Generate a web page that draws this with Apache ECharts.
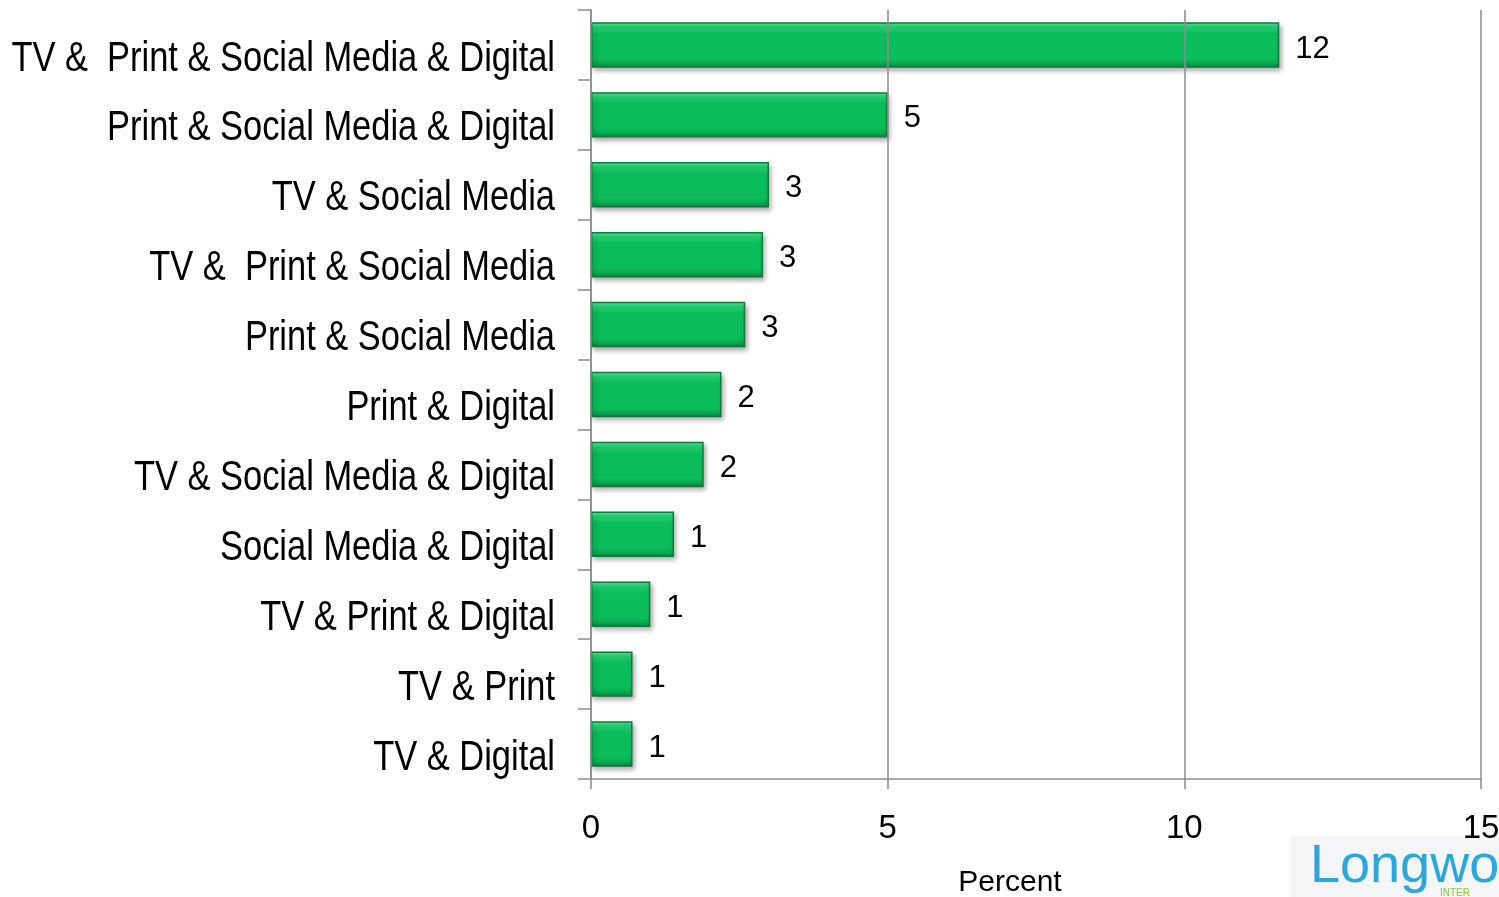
<!DOCTYPE html>
<html>
<head>
<meta charset="utf-8">
<script src="https://cdn.jsdelivr.net/npm/echarts@6/dist/echarts.min.js"></script>
<style>
  html, body { margin: 0; padding: 0; background: #fff; }
  #chart { width: 1499px; height: 897px; }
</style>
</head>
<body>
<div id="chart"></div>
<script>
// Media combinations, listed top to bottom
const categories = [
  'TV &  Print & Social Media & Digital',
  'Print & Social Media & Digital',
  'TV & Social Media',
  'TV &  Print & Social Media',
  'Print & Social Media',
  'Print & Digital',
  'TV & Social Media & Digital',
  'Social Media & Digital',
  'TV & Print & Digital',
  'TV & Print',
  'TV & Digital'
];
// Share of respondents (percent)
const percentValues = [11.6, 5.0, 3.0, 2.9, 2.6, 2.2, 1.9, 1.4, 1.0, 0.7, 0.7];
const axisTicks = [0, 5, 10, 15];

const chart = echarts.init(document.getElementById('chart'), null, { renderer: 'canvas' });

const barFill = new echarts.graphic.LinearGradient(0, 0, 0, 1, [
  { offset: 0.00, color: '#5af09c' },
  { offset: 0.12, color: '#22d372' },
  { offset: 0.25, color: '#0bbd5a' },
  { offset: 0.80, color: '#0bbd5a' },
  { offset: 0.92, color: '#0aa44e' },
  { offset: 1.00, color: '#087d3b' }
]);

const gridLeft = 591;

chart.setOption({
  animation: false,
  grid: { left: gridLeft, right: 18, top: 10, bottom: 118, containLabel: false, outerBoundsMode: 'none' },
  xAxis: {
    type: 'value',
    min: axisTicks[0],
    max: axisTicks[axisTicks.length - 1],
    interval: axisTicks[1] - axisTicks[0],
    z: 5,
    axisLine: { show: true, lineStyle: { color: '#8c8c8c', width: 1.5 } },
    axisTick: { show: true, length: 10, lineStyle: { color: '#8c8c8c', width: 1.5 } },
    axisLabel: {
      color: '#000', fontFamily: 'Liberation Sans, Arial, sans-serif', fontSize: 33, margin: 33
    },
    splitLine: { show: true, lineStyle: { color: '#8c8c8c', width: 1.5 } }
  },
  yAxis: {
    type: 'category',
    data: categories,
    inverse: true,
    axisLine: { show: true, lineStyle: { color: '#8c8c8c', width: 1.5 } },
    axisTick: { show: true, length: 13, lineStyle: { color: '#8c8c8c', width: 1.5 } },
    // category names are drawn below as condensed text
    axisLabel: { show: false },
    splitLine: { show: false }
  },
  series: [{
    type: 'bar',
    data: percentValues,
    barCategoryGap: '35%',
    itemStyle: {
      color: barFill,
      borderColor: '#0f7a3c',
      borderWidth: 1.5,
      shadowColor: 'rgba(0,0,0,0.35)',
      shadowBlur: 5,
      shadowOffsetX: 2,
      shadowOffsetY: 3
    },
    label: {
      show: true,
      position: 'right',
      distance: 16,
      offset: [0, 4],
      color: '#000',
      fontFamily: 'Liberation Sans, Arial, sans-serif',
      fontSize: 31,
      formatter: p => Math.round(p.value)
    }
  }]
});

// Condensed category labels, placed at each category's position on the y axis
const categoryLabels = categories.map(name => ({
  type: 'text',
  x: gridLeft - 36,
  y: chart.convertToPixel({ yAxisIndex: 0 }, name) + 14,
  scaleX: 0.82,
  style: {
    text: name,
    fill: '#000',
    font: '42px "Liberation Sans", Arial, sans-serif',
    textAlign: 'right',
    textVerticalAlign: 'middle'
  }
}));

chart.setOption({
  graphic: categoryLabels.concat([
    {
      type: 'text', x: 1010, y: 883,
      style: {
        text: 'Percent', fill: '#000', font: '30px "Liberation Sans", Arial, sans-serif',
        textAlign: 'center', textVerticalAlign: 'middle'
      }
    },
    {
      type: 'rect', shape: { x: 1290, y: 836, width: 209, height: 61 },
      style: { fill: '#f4f6f8' }, z: -10
    },
    {
      type: 'text', x: 1310, y: 840, z: -5,
      style: { text: 'Longwo', fill: '#2ba7df', font: '54px "Liberation Sans", Arial, sans-serif' }
    },
    {
      type: 'text', x: 1440, y: 888, z: -5,
      style: { text: 'INTER', fill: '#8cc63f', font: '10px "Liberation Sans", Arial, sans-serif' }
    }
  ])
});
</script>
</body>
</html>
